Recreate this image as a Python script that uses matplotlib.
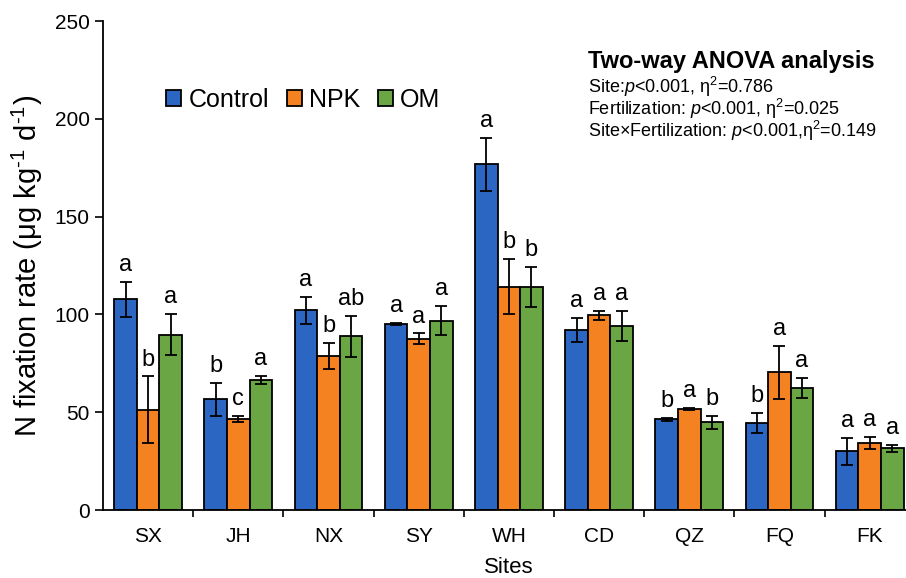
import matplotlib.pyplot as plt
import numpy as np

plt.rcParams['font.family'] = ['Liberation Sans', 'DejaVu Sans']
plt.rcParams['mathtext.fontset'] = 'custom'
plt.rcParams['mathtext.rm'] = 'Liberation Sans'
plt.rcParams['mathtext.it'] = 'Liberation Sans:italic'
plt.rcParams['mathtext.bf'] = 'Liberation Sans:bold'

sites = ['SX', 'JH', 'NX', 'SY', 'WH', 'CD', 'QZ', 'FQ', 'FK']
treatments = ['Control', 'NPK', 'OM']
colors = ['#2B66C3', '#F58220', '#6BA644']

control = [107.7, 56.6, 102.1, 95.1, 176.7, 92.0, 46.4, 44.5, 30.0]
npk = [51.3, 46.4, 78.9, 87.6, 114.2, 99.5, 51.6, 70.4, 34.3]
om = [89.6, 66.5, 88.8, 96.8, 114.2, 94.1, 44.8, 62.5, 31.5]

control_err = [9.0, 8.5, 7.0, 0.5, 13.5, 6.0, 0.8, 5.0, 6.8]
npk_err = [17.0, 1.5, 6.7, 2.7, 14.0, 2.3, 0.5, 13.4, 3.2]
om_err = [10.5, 2.0, 10.4, 7.5, 10.2, 7.7, 3.4, 5.0, 1.8]

control_letters = ['a', 'b', 'a', 'a', 'a', 'a', 'b', 'b', 'a']
npk_letters = ['b', 'c', 'b', 'a', 'b', 'a', 'a', 'a', 'a']
om_letters = ['a', 'a', 'ab', 'a', 'b', 'a', 'b', 'a', 'a']

fig = plt.figure(figsize=(9.06, 5.78), dpi=100)
ax = fig.add_axes([0.1137, 0.1176, 0.896, 0.846])

x = np.arange(len(sites))
w = 0.25
series = [(control, control_err, control_letters),
          (npk, npk_err, npk_letters),
          (om, om_err, om_letters)]
for i, (vals, errs, letters) in enumerate(series):
    pos = x + (i - 1) * w
    ax.bar(pos, vals, w, color=colors[i], edgecolor='black', linewidth=1.3,
           label=treatments[i], zorder=2)
    ax.errorbar(pos, vals, yerr=errs, fmt='none', ecolor='black',
                elinewidth=1.3, capsize=4, capthick=1.3, zorder=3)
    for p, v, e, l in zip(pos, vals, errs, letters):
        ax.text(p, v + e + 3, l, ha='center', va='bottom', fontsize=17)

ax.set_xlim(-0.5, len(sites) - 0.5)
ax.set_ylim(0, 250)
ax.set_yticks([0, 50, 100, 150, 200, 250])
ax.set_xticks(x)
ax.set_xticklabels(sites)
ax.set_xticks(np.arange(len(sites)) + 0.5, minor=True)
ax.tick_params(axis='x', which='major', length=0, labelsize=15, pad=12)
ax.tick_params(axis='x', which='minor', length=5, width=1.2, direction='out')
ax.tick_params(axis='y', length=6, width=1.2, direction='out', labelsize=15)
for s in ['top', 'right']:
    ax.spines[s].set_visible(False)
for s in ['left', 'bottom']:
    ax.spines[s].set_linewidth(1.3)

ax.set_ylabel('N fixation rate (μg kg$^{\\text{-1}}$ d$^{\\text{-1}}$)', fontsize=21, labelpad=7)
ax.set_xlabel('Sites', fontsize=16, labelpad=8)

ax.legend(loc='upper left', bbox_to_anchor=(0.05, 0.91), ncol=3, frameon=False,
          fontsize=18, handlelength=0.6, handleheight=0.6, handletextpad=0.3,
          columnspacing=0.7)

ax.text(0.597, 0.918, 'Two-way ANOVA analysis', transform=ax.transAxes,
        fontsize=17, fontweight='bold', ha='left', va='center')
ax.text(0.597, 0.865, 'Site:$\\it{p}$<0.001, η$^2$=0.786', transform=ax.transAxes,
        fontsize=13, ha='left', va='center')
ax.text(0.597, 0.82, 'Fertilization: $\\it{p}$<0.001, η$^2$=0.025', transform=ax.transAxes,
        fontsize=13, ha='left', va='center')
ax.text(0.597, 0.775, 'Site×Fertilization: $\\it{p}$<0.001,η$^2$=0.149', transform=ax.transAxes,
        fontsize=13, ha='left', va='center')

fig.savefig('out.png', dpi=100)
